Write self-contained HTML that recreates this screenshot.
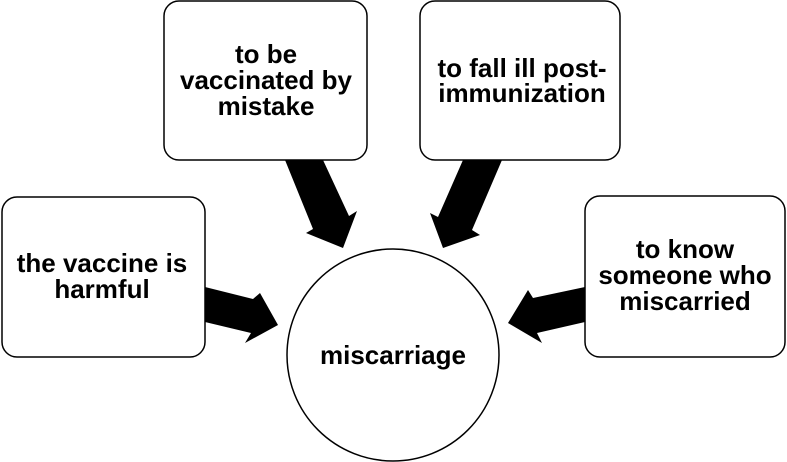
<!DOCTYPE html>
<html><head><style>
body{margin:0;background:#fff;}
svg{display:block;}
text{font-family:"Liberation Sans",Arial,sans-serif;font-weight:bold;font-size:26px;text-anchor:middle;}
</style></head><body>
<svg width="787" height="462" viewBox="0 0 787 462">
<g fill="#fff" stroke="#000" stroke-width="1.5">
<rect x="2" y="197" width="203" height="160" rx="15"/>
<rect x="164" y="1" width="203" height="159" rx="15"/>
<rect x="420" y="1" width="200" height="159" rx="15"/>
<rect x="585" y="196" width="200" height="161" rx="15"/>
<circle cx="393" cy="355" r="106"/>
</g>
<g fill="#000">
<polygon points="285,160 323,160 349,216 357,211 343,248 306,233 313,229"/>
<polygon points="463,160 502,160 472,230 480,235 443,248 430,213 438,217"/>
<polygon points="205,287 253,299 260,293 278,325 245,343 251,333 205,322"/>
<polygon points="585,287 533,298 528,290 508,323 542,343 537,333 585,322"/>
</g>
<text x="102" y="272">the vaccine is</text>
<text x="102" y="298">harmful</text>
<text x="266" y="63">to be</text>
<text x="266" y="89">vaccinated by</text>
<text x="266" y="115">mistake</text>
<text x="522" y="77">to fall ill post-</text>
<text x="522" y="102">immunization</text>
<text x="685" y="258">to know</text>
<text x="685" y="284">someone who</text>
<text x="685" y="310">miscarried</text>
<text x="393" y="364">miscarriage</text>
</svg>
</body></html>
